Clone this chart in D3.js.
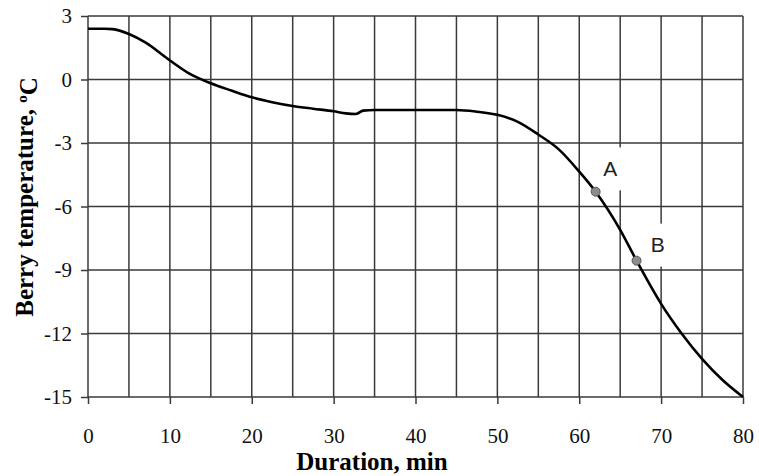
<!DOCTYPE html>
<html>
<head>
<meta charset="utf-8">
<script src="https://cdn.jsdelivr.net/npm/d3@7"></script>
<style>
  body { margin: 0; background: #fff; }
  .tick text { font-family: "Liberation Serif", "Times New Roman", serif; font-size: 21px; fill: #111; }
</style>
</head>
<body>
<div id="chart"></div>
<script>
// freezing curve
var duration = [0, 2, 3, 5, 7, 10, 12.5, 15, 17.5, 20, 22.5, 25, 27.5, 30, 31.5, 32.7, 33.6, 35, 40, 45, 47.5, 50, 52.5, 55, 57.5, 60, 62, 65, 67, 70, 72.5, 75, 77.5, 80];
var temperature = [2.4, 2.4, 2.38, 2.15, 1.75, 0.9, 0.25, -0.18, -0.52, -0.84, -1.07, -1.25, -1.38, -1.5, -1.6, -1.63, -1.47, -1.44, -1.44, -1.44, -1.52, -1.67, -2.0, -2.6, -3.3, -4.35, -5.3, -7.1, -8.56, -10.6, -12.0, -13.2, -14.2, -15];

// marked points
var pointNames = ["A", "B"];
var pointX = [62, 67];
var pointY = [-5.3, -8.56];
var labelX = [63.8, 69.6];
var labelY = [-4.2, -7.8];

var xTicks = [0, 10, 20, 30, 40, 50, 60, 70, 80];
var yTicks = [3, 0, -3, -6, -9, -12, -15];
var xGrid = d3.range(0, 81, 5);

var width = 759, height = 476;
var margin = { top: 16, right: 16, bottom: 79, left: 88 };

var svg = d3.select("#chart").append("svg")
    .attr("width", width)
    .attr("height", height);

var x = d3.scaleLinear().domain([0, 80]).range([margin.left, width - margin.right]);
var y = d3.scaleLinear().domain([-15, 3]).range([height - margin.bottom, margin.top]);

var gridColor = "#3a3a3a";

// grid
svg.append("g").selectAll("line")
    .data(xGrid)
    .enter().append("line")
    .attr("x1", d => x(d)).attr("x2", d => x(d))
    .attr("y1", y(3)).attr("y2", y(-15))
    .attr("stroke", gridColor).attr("stroke-width", 1.5);

svg.append("g").selectAll("line")
    .data(yTicks)
    .enter().append("line")
    .attr("x1", x(0)).attr("x2", x(80))
    .attr("y1", d => y(d)).attr("y2", d => y(d))
    .attr("stroke", gridColor).attr("stroke-width", 1.5);

// axes (ticks + labels only), plain hyphen minus like the original
var yAxis = svg.append("g")
    .attr("transform", `translate(${x(0)},0)`)
    .call(d3.axisLeft(y).tickValues(yTicks).tickFormat(d => String(d)).tickSize(7).tickPadding(9));
yAxis.select(".domain").remove();
yAxis.selectAll(".tick line").attr("stroke", gridColor).attr("stroke-width", 1.5);

var xAxis = svg.append("g")
    .attr("transform", `translate(0,${y(-15)})`)
    .call(d3.axisBottom(x).tickValues(xTicks).tickFormat(d => String(d)).tickSize(7).tickPadding(24));
xAxis.select(".domain").remove();
xAxis.selectAll(".tick line").attr("stroke", gridColor).attr("stroke-width", 1.5);

// white boxes behind the A / B labels
svg.append("g").selectAll("rect")
    .data(pointNames)
    .enter().append("rect")
    .attr("x", (d, i) => x(labelX[i]) - 13)
    .attr("y", (d, i) => y(labelY[i]) - 21)
    .attr("width", 27)
    .attr("height", 43)
    .attr("fill", "#fff");

// curve
var line = d3.line()
    .x((d, i) => x(duration[i]))
    .y(d => y(d))
    .curve(d3.curveMonotoneX);

svg.append("path")
    .datum(temperature)
    .attr("d", line)
    .attr("fill", "none")
    .attr("stroke", "#000")
    .attr("stroke-width", 2.6);

svg.append("g").selectAll("circle")
    .data(pointNames)
    .enter().append("circle")
    .attr("cx", (d, i) => x(pointX[i]))
    .attr("cy", (d, i) => y(pointY[i]))
    .attr("r", 4.5)
    .attr("fill", "#8c8c8c")
    .attr("stroke", "#555")
    .attr("stroke-width", 1);

svg.append("g").selectAll("text")
    .data(pointNames)
    .enter().append("text")
    .attr("x", (d, i) => x(labelX[i]))
    .attr("y", (d, i) => y(labelY[i]))
    .attr("dy", "0.36em")
    .attr("text-anchor", "middle")
    .style("font-family", "'Liberation Sans', Arial, sans-serif")
    .style("font-size", "21px")
    .style("fill", "#222")
    .text(d => d);

// axis titles
svg.append("text")
    .attr("x", 372)
    .attr("y", 470)
    .attr("text-anchor", "middle")
    .style("font-family", "'Liberation Serif', 'Times New Roman', serif")
    .style("font-weight", "bold")
    .style("font-size", "25px")
    .text("Duration, min");

var yTitle = svg.append("text")
    .attr("transform", "translate(33,197) rotate(-90)")
    .attr("text-anchor", "middle")
    .style("font-family", "'Liberation Serif', 'Times New Roman', serif")
    .style("font-weight", "bold")
    .style("font-size", "25px");
yTitle.append("tspan").text("Berry temperature, ");
yTitle.append("tspan").attr("dy", "-0.4em").style("font-size", "15px").text("o");
yTitle.append("tspan").attr("dy", "0.4em").text("C");
</script>
</body>
</html>
